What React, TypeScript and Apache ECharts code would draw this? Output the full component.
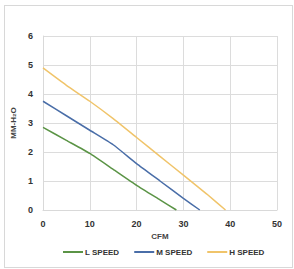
import React, { useEffect, useRef } from "react";
import * as echarts from "echarts";

const seriesNames = ["L SPEED", "M SPEED", "H SPEED"];
const lSpeed: [number, number][] = [[0, 2.85], [5, 2.4], [10, 1.95], [15, 1.4], [20, 0.85], [25, 0.35], [28.5, 0]];
const mSpeed: [number, number][] = [[0, 3.75], [5, 3.25], [10, 2.75], [15, 2.25], [20, 1.6], [25, 1.0], [30, 0.4], [33.5, 0]];
const hSpeed: [number, number][] = [[0, 4.9], [5, 4.3], [10, 3.75], [15, 3.15], [20, 2.5], [25, 1.85], [30, 1.2], [35, 0.55], [39, 0]];
const colors = ["#5b9446", "#4a6ea8", "#f0c46a"];

export default function App() {
  const ref = useRef<HTMLDivElement>(null);
  useEffect(() => {
    if (!ref.current) return;
    const chart = echarts.init(ref.current, undefined, { renderer: "svg" });
    const font = "Liberation Sans";
    const data = [lSpeed, mSpeed, hSpeed];
    chart.setOption({
      animation: false,
      grid: { left: 43, right: 17, top: 36, bottom: 59 },
      xAxis: {
        type: "value",
        min: 0,
        max: 50,
        interval: 10,
        name: "CFM",
        nameLocation: "middle",
        nameGap: 21,
        nameTextStyle: { fontFamily: font, fontSize: 8, color: "#444", fontWeight: "bold" },
        axisLine: { show: true, lineStyle: { color: "#d9d9d9" } },
        axisTick: { show: false },
        axisLabel: { fontFamily: font, fontSize: 9, color: "#333", fontWeight: "bold", margin: 9 },
        splitLine: { show: true, lineStyle: { color: "#dcdcdc" } },
      },
      yAxis: {
        type: "value",
        min: 0,
        max: 6,
        interval: 1,
        name: "MM-H₂O",
        nameLocation: "middle",
        nameRotate: 90,
        nameGap: 22,
        nameTextStyle: { fontFamily: font, fontSize: 8, color: "#444", fontWeight: "bold" },
        axisLine: { show: true, lineStyle: { color: "#d9d9d9" } },
        axisTick: { show: false },
        axisLabel: { fontFamily: font, fontSize: 9, color: "#333", fontWeight: "bold", margin: 10 },
        splitLine: { show: true, lineStyle: { color: "#dcdcdc" } },
      },
      legend: {
        bottom: 8,
        left: 58,
        itemWidth: 20,
        itemHeight: 2,
        itemGap: 15,
        icon: "rect",
        textStyle: { fontFamily: font, fontSize: 8, color: "#333", fontWeight: "bold", padding: [0, 0, 0, -3] },
        data: seriesNames,
      },
      series: seriesNames.map((n, i) => ({
        name: n,
        type: "line",
        data: data[i],
        symbol: "none",
        smooth: 0.15,
        lineStyle: { width: 1.5, color: colors[i] },
        itemStyle: { color: colors[i] },
      })),
    });
    return () => chart.dispose();
  }, []);
  return (
    <div
      style={{
        position: "fixed",
        left: 0,
        top: 0,
        width: 294,
        height: 269,
        background: "#fff",
      }}
    >
      <div
        style={{
          position: "absolute",
          left: 4,
          top: 5,
          width: 289,
          height: 263,
          border: "1px solid #d8d8d8",
          boxSizing: "border-box",
        }}
      />
      <div ref={ref} style={{ position: "absolute", left: 0, top: 0, width: 294, height: 269 }} />
    </div>
  );
}
